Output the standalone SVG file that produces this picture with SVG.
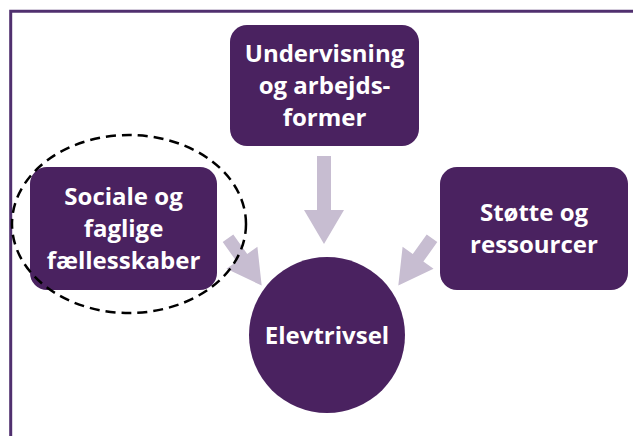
<svg xmlns="http://www.w3.org/2000/svg" width="633" height="436" viewBox="0 0 633 436">
<style>
.box{fill:#4A2260}
.lbl{font-family:"Open Sans","Noto Sans","Liberation Sans",sans-serif;font-weight:700;font-size:24px;fill:#FFFFFF;text-anchor:middle}
.arr{fill:#C7BDD1}
</style>
<defs>
<polygon id="shortArrow" points="0,-6.5 24,-6.5 24,-19 58,0 24,19 24,6.5 0,6.5"/>
</defs>
<rect width="633" height="436" fill="#FFFFFF"/>
<g id="frame">
<path d="M10.7 436 V11.3 H633" fill="none" stroke="#50306F" stroke-width="3"/>
</g>
<g id="connectors">
<polygon class="arr" points="317,156 331,156 331,210 344,210 324,244 304,210 317,210"/>
<use href="#shortArrow" class="arr" transform="translate(228,238.3) rotate(54.5)"/>
<use href="#shortArrow" class="arr" transform="translate(432,238.3) rotate(125.5)"/>
</g>
<g id="node-undervisning">
<rect class="box" x="230" y="25" width="189" height="121" rx="17"/>
<text class="lbl" x="324.5" y="62">Undervisning</text>
<text class="lbl" x="324.5" y="94">og arbejds-</text>
<text class="lbl" x="324.5" y="126">former</text>
</g>
<g id="node-sociale">
<rect class="box" x="30" y="167" width="187" height="123" rx="17"/>
<text class="lbl" x="123.5" y="205">Sociale og</text>
<text class="lbl" x="123.5" y="237">faglige</text>
<text class="lbl" x="123.5" y="269">fællesskaber</text>
</g>
<g id="node-stotte">
<rect class="box" x="440" y="167" width="188" height="123" rx="17"/>
<text class="lbl" x="534" y="221">Støtte og</text>
<text class="lbl" x="534" y="253">ressourcer</text>
</g>
<g id="node-elevtrivsel">
<circle class="box" cx="327" cy="335" r="78"/>
<text class="lbl" x="327" y="344">Elevtrivsel</text>
</g>
<g id="highlight">
<ellipse cx="129" cy="224" rx="117" ry="89" fill="none" stroke="#000000" stroke-width="2.5" stroke-dasharray="10 6"/>
</g>
</svg>
